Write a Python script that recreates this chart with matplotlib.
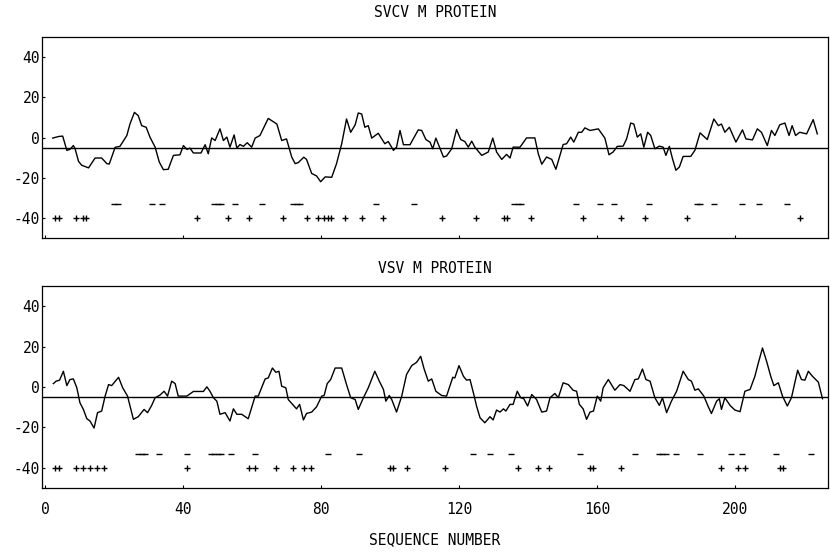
"""Hydropathy profiles of the SVCV and VSV M proteins, redrawn from a plotter figure."""

import matplotlib

matplotlib.use("Agg")
import matplotlib.pyplot as plt

plt.rcParams["font.family"] = ["DejaVu Sans Mono", "DejaVu Sans"]
plt.rcParams["axes.unicode_minus"] = False

# --------------------------------------------------------------------------- #
# Data (sequence position, hydropathy value)
# --------------------------------------------------------------------------- #
svcv_pos = [2.2, 3.9, 5.1, 6.3, 7.2, 8.2, 8.7, 9.7, 10.6, 12.6, 14.5, 16.4, 17.9, 18.6,
            20.3, 21.7, 23.7, 24.6, 25.9, 27.0, 28.0, 29.3, 30.4, 31.9, 33.1, 34.3,
            35.7, 37.2, 39.1, 40.1, 41.1, 42.0, 43.0, 45.2, 46.4, 47.3, 48.3, 49.3,
            50.7, 51.7, 52.7, 53.6, 54.8, 55.6, 56.5, 57.5, 58.6, 59.9, 60.9, 62.3,
            64.7, 67.2, 68.6, 70.0, 71.5, 72.5, 73.4, 75.0, 75.8, 77.3, 78.7, 79.9,
            81.2, 83.1, 84.5, 86.0, 87.4, 88.6, 89.9, 90.8, 91.8, 92.7, 93.7, 94.7,
            96.6, 98.5, 99.5, 101.0, 101.9, 102.9, 103.9, 105.8, 108.2, 109.2, 110.4,
            111.6, 112.4, 113.3, 115.5, 116.4, 117.9, 119.3, 120.5, 121.7, 122.7,
            123.7, 124.6, 126.6, 128.5, 129.8, 130.9, 132.4, 133.8, 134.8, 135.7,
            137.7, 139.6, 142.0, 143.0, 144.0, 145.4, 146.9, 148.1, 150.2, 151.2,
            152.4, 153.3, 154.6, 155.6, 156.5, 158.0, 160.4, 162.3, 163.5, 164.7,
            165.9, 167.6, 168.6, 169.8, 170.7, 171.7, 172.7, 173.6, 174.7, 175.6,
            176.8, 178.1, 179.2, 180.0, 181.0, 181.9, 182.9, 183.9, 185.0, 187.2,
            188.4, 189.9, 192.0, 193.9, 195.2, 196.1, 197.1, 198.4, 200.3, 202.2,
            203.2, 205.1, 206.5, 207.7, 209.4, 210.6, 211.6, 213.0, 214.5, 215.7,
            216.6, 217.6, 218.8, 220.8, 222.7, 223.9]
svcv_val = [-0.3, 0.5, 0.7, -6.4, -5.9, -4.0, -5.6, -11.9, -13.8, -15.1, -10.2, -10.2,
            -13.0, -13.2, -4.9, -4.4, 1.0, 6.7, 12.5, 10.9, 5.9, 5.1, 0.2, -4.8, -12.2,
            -16.0, -15.8, -8.9, -8.6, -4.0, -5.9, -5.3, -7.7, -7.7, -3.6, -8.1, -0.2,
            -1.5, 4.3, -1.5, 0.2, -4.8, 1.3, -5.3, -3.5, -4.4, -2.6, -4.8, -0.3, 1.0,
            9.5, 6.7, -1.5, -0.7, -9.7, -13.0, -12.5, -9.8, -10.9, -17.9, -19.1, -22.0,
            -19.6, -19.8, -13.0, -3.1, 9.2, 2.6, 6.3, 12.2, 11.7, 5.1, 5.9, -0.3,
            2.1, -3.1, -2.0, -6.4, -4.8, 3.5, -3.6, -3.6, 3.8, 3.5, -1.0,
            -2.3, -5.6, -0.3, -9.7, -9.2, -5.6, 4.0, -1.0, -2.0, -4.8,
            -1.8, -4.8, -8.9, -7.2, -0.3, -7.2, -10.9, -8.4, -10.2, -4.8,
            -4.8, -0.2, -0.2, -8.1, -13.3, -9.7, -10.9, -15.8, -3.5, -3.1,
            0.2, -2.3, 2.6, 2.6, 4.8, 3.5, 4.3, -0.3, -8.6, -7.2,
            -4.4, -4.3, -0.7, 7.2, 6.7, 0.2, 1.8, -4.8, 2.6, 1.0,
            -5.6, -4.3, -4.8, -8.9, -4.4, -10.5, -16.3, -14.7, -9.4, -9.4,
            -6.4, 2.3, -1.0, 9.2, 5.9, 6.7, 2.6, 5.1, -2.3, 3.8,
            -0.7, -1.2, 4.3, 2.6, -4.0, 3.5, 1.0, 6.3, 7.2, 1.0,
            5.9, 1.0, 2.6, 1.8, 8.9, 1.8]

vsv_pos = [2.4, 3.2, 4.2, 5.3, 6.3, 7.2, 8.2, 9.2, 10.1, 11.1, 12.1, 13.0, 14.2, 15.2,
           16.4, 17.4, 18.4, 19.3, 21.3, 22.5, 23.9, 25.6, 27.0, 28.7, 29.7, 30.9,
           31.9, 33.3, 34.5, 35.5, 36.7, 37.7, 38.6, 41.1, 43.0, 45.9, 46.9, 47.8,
           48.8, 49.8, 50.7, 52.2, 53.6, 54.6, 55.6, 57.0, 58.9, 60.9, 61.8, 63.8,
           64.7, 65.9, 66.9, 67.8, 68.6, 69.8, 70.5, 72.0, 72.9, 73.8, 74.9, 75.8,
           77.3, 78.7, 80.2, 80.9, 81.8, 82.8, 84.1, 86.0, 87.4, 88.6, 89.9, 90.8,
           92.3, 93.7, 95.6, 96.9, 98.1, 98.8, 99.8, 100.5, 101.9, 103.4, 104.8,
           106.3, 107.7, 108.9, 109.9, 111.1, 112.1, 113.3, 115.0, 116.4, 118.2,
           118.8, 120.0, 121.3, 122.2, 123.2, 124.3, 125.1, 126.1, 127.5, 129.0,
           129.9, 130.9, 131.9, 132.9, 133.6, 134.8, 135.7, 136.9, 137.9, 138.8,
           139.9, 141.1, 142.5, 144.0, 145.4, 146.4, 147.8, 148.8, 150.2, 151.7,
           153.1, 154.1, 154.9, 156.0, 157.0, 158.0, 159.0, 160.1, 161.1, 161.8,
           163.3, 165.2, 166.7, 167.8, 169.6, 171.0, 172.0, 173.2, 174.2, 175.4,
           176.8, 178.1, 179.0, 180.2, 181.6, 183.1, 185.0, 186.5, 187.4, 188.4,
           189.4, 191.0, 192.3, 193.2, 194.7, 195.5, 196.1, 197.1, 198.6, 200.0,
           201.5, 202.9, 204.4, 205.8, 206.8, 208.0, 209.2, 210.4, 211.3, 212.6,
           213.8, 215.2, 216.4, 218.2, 219.3, 220.3, 221.3, 222.5, 224.2, 225.4]
vsv_val = [1.7, 2.9, 3.4, 7.8, 0.7, 3.7, 4.0, -0.4, -7.8, -11.1, -15.7, -16.8, -20.3, -12.7,
           -11.9, -4.5, 1.2, 0.7, 4.8, -0.4, -4.5, -16.0, -14.7, -11.1, -12.7, -9.1,
           -5.3, -4.0, -2.1, -4.5, 2.9, 1.7, -4.5, -4.5, -2.2, -2.2, 0.1, -2.1,
           -5.3, -7.0, -13.5, -12.7, -16.8, -10.8, -13.5, -13.5, -15.7, -4.5, -4.5, 4.0,
           4.5, 9.4, 7.3, 7.8, 0.4, -0.4, -6.2, -9.1, -10.8, -8.6, -16.3, -13.1,
           -12.4, -9.8, -4.5, -4.2, 1.7, 3.7, 9.4, 9.4, 1.2, -5.3, -6.2, -11.1,
           -5.3, -0.4, 7.8, 2.9, -1.2, -7.0, -4.2, -6.2, -12.4, -4.5, 6.2,
           10.6, 12.2, 15.2, 8.9, 2.9, 4.0, -2.1, -4.2, -4.5, 4.8,
           4.5, 10.6, 5.3, 3.4, 3.7, -3.7, -9.4, -15.2, -17.7, -14.7,
           -16.3, -11.4, -12.4, -10.8, -11.9, -8.6, -8.6, -2.1, -5.3, -5.8,
           -9.4, -3.7, -6.2, -12.4, -11.9, -5.3, -3.2, -5.3, 2.1, 1.2,
           -1.6, -2.1, -8.6, -10.8, -16.0, -12.4, -11.9, -4.5, -7.0, -0.4,
           3.7, -1.6, 1.2, 0.7, -2.1, 3.7, 4.0, 8.9, 3.7, 2.9,
           -5.3, -9.1, -5.3, -12.7, -7.0, -2.1, 7.8, 3.7, 2.9, -1.6,
           -0.9, -4.5, -9.8, -13.1, -7.0, -5.8, -11.1, -5.3, -9.1, -11.4,
           -12.2, -2.1, -1.2, 5.3, 11.9, 19.3, 12.7, 5.3, 0.7, 2.1,
           -4.5, -9.4, -5.3, 8.3, 3.7, 3.4, 7.8, 5.3, 2.4, -5.8]

# residues flagged with "-" (drawn at -33) and "+" (drawn at -40)
svcv_dash = [20, 21, 31, 34, 49, 50, 51, 55, 63, 72, 73, 74, 96, 107, 136, 137, 138,
             154, 161, 165, 175, 189, 190, 194, 202, 207, 215]
svcv_plus = [3, 4, 9, 11, 12, 44, 53, 59, 69, 76, 79, 81, 82, 83, 87, 92, 98, 115, 125,
             133, 134, 141, 156, 167, 174, 186, 219]
vsv_dash = [27, 28, 29, 33, 41, 48, 49, 50, 51, 54, 61, 82, 91, 124, 129, 135, 155,
            171, 178, 179, 180, 183, 190, 199, 202, 212, 222]
vsv_plus = [3, 4, 9, 11, 13, 15, 17, 41, 59, 61, 67, 72, 75, 77, 100, 101, 105, 116,
            137, 143, 146, 158, 159, 167, 196, 201, 203, 213, 214]

DASH_LEVEL = -33
PLUS_LEVEL = -40
MEAN_LEVEL = -5

TITLES = ["SVCV M PROTEIN", "VSV M PROTEIN"]
Y_TICKS = [-40, -20, 0, 20, 40]
X_TICKS = [0, 40, 80, 120, 160, 200]


def draw_panel(ax, pos, val, dash, plus, show_x):
    ax.plot(pos, val, color="black", lw=1.0)
    ax.axhline(MEAN_LEVEL, color="black", lw=1.0)
    ax.plot(dash, [DASH_LEVEL] * len(dash), ls="none", marker="_", ms=4.5,
            mew=1.0, color="black")
    ax.plot(plus, [PLUS_LEVEL] * len(plus), ls="none", marker="+", ms=4.0,
            mew=1.0, color="black")

    ax.set_xlim(-0.9, 227)
    ax.set_ylim(-50, 50)
    ax.set_yticks(Y_TICKS)
    ax.set_xticks(X_TICKS)
    ax.tick_params(direction="in", length=2.5, width=0.8, labelsize=10.5, pad=1.5)
    ax.tick_params(axis="x", pad=10)
    if not show_x:
        ax.tick_params(axis="x", labelbottom=False)
    for sp in ax.spines.values():
        sp.set_linewidth(0.9)


fig = plt.figure(figsize=(8.3, 5.53), dpi=100)
ax_top = fig.add_axes([0.0506, 0.5696, 0.947, 0.3635])
ax_bot = fig.add_axes([0.0506, 0.1175, 0.947, 0.3653])

draw_panel(ax_top, svcv_pos, svcv_val, svcv_dash, svcv_plus, show_x=False)
draw_panel(ax_bot, vsv_pos, vsv_val, vsv_dash, vsv_plus, show_x=True)

fig.text(0.524, 0.978, TITLES[0], ha="center", va="center", fontsize=10.5)
fig.text(0.524, 0.515, TITLES[1], ha="center", va="center", fontsize=10.5)
fig.text(0.524, 0.0235, "SEQUENCE NUMBER", ha="center", va="center", fontsize=10.5)

fig.savefig("out.png", dpi=100)
